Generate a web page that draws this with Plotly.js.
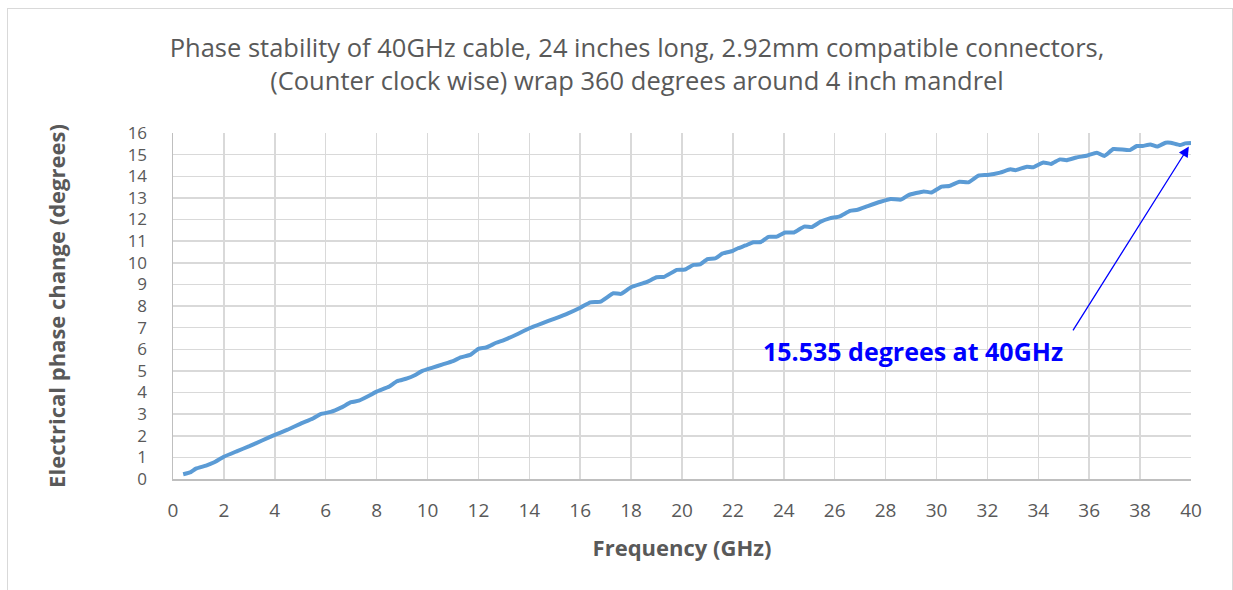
<!DOCTYPE html>
<html>
<head>
<meta charset="utf-8">
<script src="https://cdn.plot.ly/plotly-3.0.1.min.js"></script>
<style>
  html, body { margin: 0; padding: 0; background: #ffffff; }
  #chart { width: 1233px; height: 590px; position: absolute; left: 0; top: 0; }
  #frame { position: absolute; left: 7px; top: 8px; width: 1224px; height: 600px;
           border: 1px solid #d9d9d9; pointer-events: none; }
</style>
</head>
<body>
<div id="chart"></div>
<div id="frame"></div>
<script>
// Frequency (GHz) and electrical phase change (degrees)
const frequency = [
  0.4, 0.7, 0.9, 1.3, 1.6, 2.0, 2.5, 3.0, 3.5, 4.0,
  4.5, 5.0, 5.5, 5.8, 6.2, 6.6, 7.0, 7.3, 7.7, 8.0,
  8.5, 8.8, 9.2, 9.5, 9.8, 10.2, 10.6, 11.0, 11.3, 11.7,
  12.0, 12.3, 12.7, 13.0, 13.5, 14.0, 14.5, 15.0, 15.5, 16.0,
  16.4, 16.8, 17.3, 17.6, 18.0, 18.6, 19.0, 19.3, 19.8, 20.1,
  20.45, 20.7, 21.0, 21.3, 21.6, 22.0, 22.2, 22.5, 22.8, 23.1,
  23.4, 23.7, 24.05, 24.4, 24.8, 25.1, 25.45, 25.8, 26.2, 26.6,
  26.9, 27.3, 27.8, 28.2, 28.6, 28.9, 29.5, 29.8, 30.2, 30.5,
  30.9, 31.25, 31.65, 32.0, 32.5, 32.9, 33.1, 33.55, 33.8, 34.2,
  34.5, 34.85, 35.1, 35.5, 35.9, 36.3, 36.6, 36.95, 37.6, 37.87,
  38.1, 38.4, 38.67, 39.0, 39.2, 39.57, 39.77, 40.0
];
const phaseChange = [
  0.22, 0.32, 0.48, 0.62, 0.76, 1.03, 1.28, 1.52, 1.78, 2.04,
  2.28, 2.55, 2.80, 3.00, 3.10, 3.30, 3.55, 3.62, 3.85, 4.04,
  4.28, 4.52, 4.65, 4.80, 5.00, 5.15, 5.30, 5.45, 5.62, 5.75,
  6.02, 6.08, 6.30, 6.42, 6.68, 6.97, 7.20, 7.42, 7.65, 7.92,
  8.17, 8.20, 8.59, 8.56, 8.87, 9.10, 9.33, 9.35, 9.67, 9.68,
  9.90, 9.92, 10.17, 10.20, 10.43, 10.55, 10.67, 10.80, 10.95, 10.96,
  11.20, 11.20, 11.40, 11.40, 11.67, 11.65, 11.90, 12.05, 12.15, 12.40,
  12.45, 12.62, 12.82, 12.95, 12.92, 13.13, 13.30, 13.25, 13.52, 13.55,
  13.75, 13.72, 14.03, 14.06, 14.17, 14.32, 14.28, 14.44, 14.42, 14.64,
  14.57, 14.78, 14.74, 14.87, 14.95, 15.09, 14.94, 15.26, 15.21, 15.40,
  15.40, 15.47, 15.37, 15.55, 15.55, 15.44, 15.52, 15.535
];
const titleText = 'Phase stability of 40GHz cable, 24 inches long, 2.92mm compatible connectors,<br>(Counter clock wise) wrap 360 degrees around 4 inch mandrel';
const xTitle = 'Frequency (GHz)';
const yTitle = 'Electrical phase change (degrees)';
const calloutText = '15.535 degrees at 40GHz';
const calloutFreq = 40;
const calloutValue = 15.535;

const FONT = '"Open Sans", "Noto Sans", sans-serif';
const GREY = '#595959';

const trace = {
  x: frequency,
  y: phaseChange,
  type: 'scatter',
  mode: 'lines',
  line: { color: '#5b9bd5', width: 4, shape: 'spline', smoothing: 0.4 },
  hoverinfo: 'x+y',
  showlegend: false
};

const layout = {
  width: 1233,
  height: 590,
  paper_bgcolor: '#ffffff',
  plot_bgcolor: '#ffffff',
  margin: { l: 173, r: 42, t: 133, b: 111, pad: 0 },
  font: { family: FONT, color: GREY },
  title: {
    text: titleText,
    font: { family: FONT, size: 25.5, color: GREY },
    x: 637 / 1233, xref: 'container', xanchor: 'center',
    y: 1 - 57 / 590, yref: 'container', yanchor: 'top'
  },
  xaxis: {
    range: [0, 40],
    dtick: 2, tick0: 0,
    showgrid: true, gridcolor: '#d9d9d9', gridwidth: 1.5,
    zeroline: false,
    showline: true, linecolor: '#bfbfbf', linewidth: 1.5,
    ticks: 'outside', ticklen: 14, tickcolor: 'rgba(0,0,0,0)',
    tickfont: { family: FONT, size: 19, color: GREY },
    title: { text: xTitle, font: { family: FONT, size: 22, color: GREY, weight: 'bold' }, standoff: 18 },
    fixedrange: true
  },
  yaxis: {
    range: [0, 16],
    dtick: 1, tick0: 0,
    showgrid: true, gridcolor: '#d9d9d9', gridwidth: 1.5,
    zeroline: false,
    showline: true, linecolor: '#bfbfbf', linewidth: 1.5,
    ticks: 'outside', ticklen: 21, tickcolor: 'rgba(0,0,0,0)',
    tickfont: { family: FONT, size: 17, color: GREY },
    title: { text: yTitle, font: { family: FONT, size: 22, color: GREY, weight: 'bold' }, standoff: 56 },
    fixedrange: true
  },
  annotations: [
    {
      x: calloutFreq, y: calloutValue, xref: 'x', yref: 'y',
      text: ' ',
      showarrow: true,
      arrowhead: 2, arrowsize: 1.6, arrowwidth: 1.3, arrowcolor: '#0000ff',
      standoff: 4,
      ax: -121, ay: 192
    },
    {
      x: calloutFreq, y: calloutValue, xref: 'x', yref: 'y',
      text: '<b>' + calloutText + '</b>',
      font: { family: FONT, size: 25, color: '#0000ff' },
      showarrow: true, arrowcolor: 'rgba(0,0,0,0)', arrowwidth: 0.1,
      ax: -278, ay: 208
    }
  ]
};

Plotly.newPlot('chart', [trace], layout, { displayModeBar: false, staticPlot: true });
</script>
</body>
</html>
